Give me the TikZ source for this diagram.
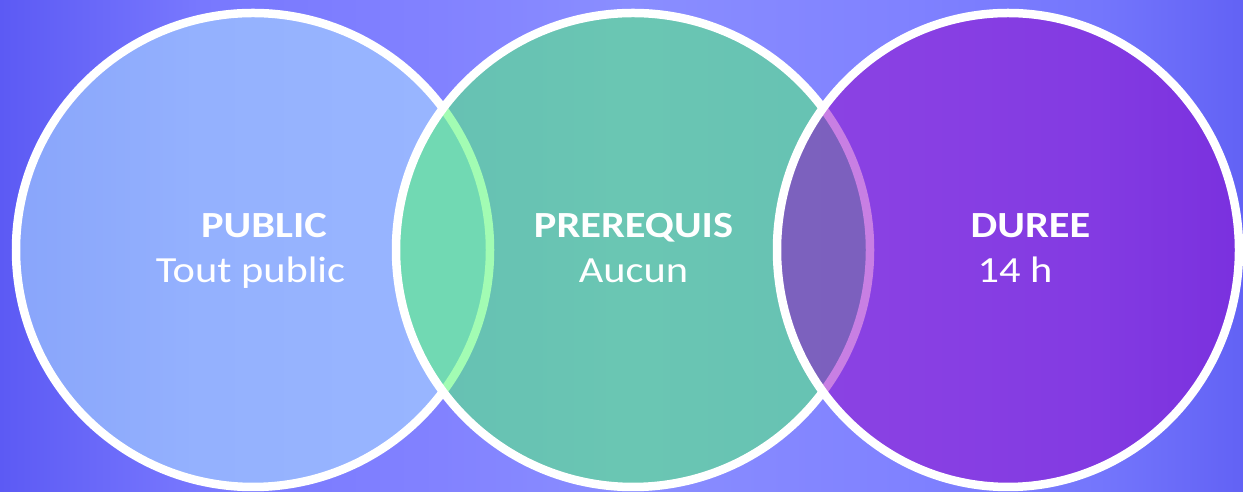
\documentclass[tikz,border=0pt]{standalone}
\usepackage{fontspec}
\setmainfont{Carlito}[FakeStretch=1.15]
\definecolor{bgEdgeL}{RGB}{92,90,244}
\definecolor{bgSideL}{RGB}{120,120,254}
\definecolor{bgMidL}{RGB}{130,130,255}
\definecolor{bgLight}{RGB}{138,142,255}
\definecolor{bgMidR}{RGB}{128,130,255}
\definecolor{bgSideR}{RGB}{116,118,252}
\definecolor{bgEdgeR}{RGB}{98,98,245}
\definecolor{mPublic}{RGB}{170,221,255}
\definecolor{mPrereq}{RGB}{78,251,111}
\definecolor{mDuree}{RGB}{146,0,201}
\pgfdeclarehorizontalshading{bgsweep}{100bp}{color(0bp)=(bgEdgeL); color(25bp)=(bgEdgeL);
  color(33bp)=(bgSideL); color(42.7bp)=(bgMidL); color(50.3bp)=(bgLight);
  color(61.2bp)=(bgMidR); color(69.2bp)=(bgSideR); color(75bp)=(bgEdgeR); color(100bp)=(bgEdgeR)}

\begin{document}
\begin{tikzpicture}[x=1bp, y=1bp,
    ring/.style={draw=white, line width=8.5bp},
    title/.style={anchor=base, text=white, inner sep=0pt, font=\fontsize{37}{40}\selectfont\bfseries},
    body/.style={anchor=base, text=white, inner sep=0pt, font=\fontsize{37}{40}\selectfont}]
  \useasboundingbox (0,0) rectangle (1243,492);
  % background
  \shade[shading=bgsweep] (0,0) rectangle (1243,492);
  % the three rings, each one over the previous
  \draw[ring, fill=mPublic, fill opacity=0.57] (253,242) circle[radius=237];
  \draw[ring, fill=mPrereq, fill opacity=0.52] (633,242) circle[radius=237];
  \draw[ring, fill=mDuree, fill opacity=0.5] (1008,242) ellipse[x radius=231, y radius=237];
  % labels
  \node[title] (public) at (264,254) {PUBLIC};
  \node[body] (publictxt) at (250.5,209) {Tout public};
  \node[title] (prereq) at (633.5,254) {PREREQUIS};
  \node[body] (prereqtxt) at (633.5,209) {Aucun};
  \node[title] (duree) at (1030.5,254) {DUREE};
  \node[body] (dureetxt) at (1015,209) {14 h};
\end{tikzpicture}
\end{document}
